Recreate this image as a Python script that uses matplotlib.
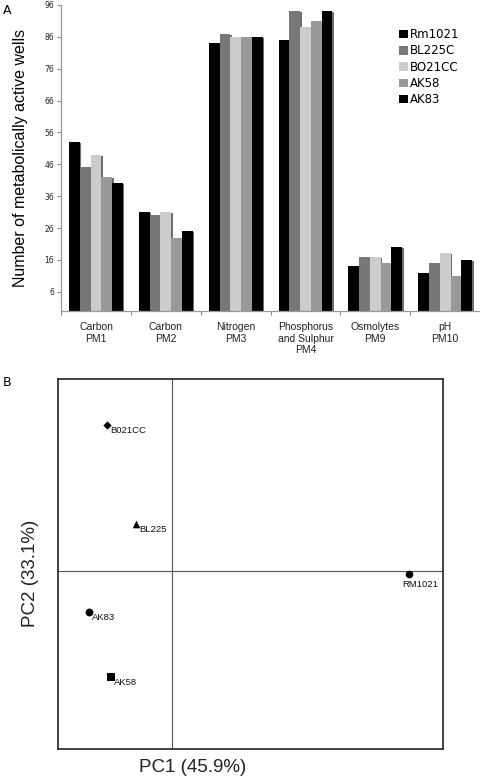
import numpy as np
import matplotlib
matplotlib.use('Agg')
import matplotlib.pyplot as plt

# panel A data
categories = ['Carbon\nPM1', 'Carbon\nPM2', 'Nitrogen\nPM3',
              'Phosphorus\nand Sulphur\nPM4', 'Osmolytes\nPM9', 'pH\nPM10']
strains = ['Rm1021', 'BL225C', 'BO21CC', 'AK58', 'AK83']
rm1021 = [53, 31, 84, 85, 14, 12]
bl225c = [45, 30, 87, 94, 17, 15]
bo21cc = [49, 31, 86, 89, 17, 18]
ak58 = [42, 23, 86, 91, 15, 11]
ak83 = [40, 25, 86, 94, 20, 16]
bar_colors = ['#000000', '#777777', '#cccccc', '#999999', '#000000']
yticks = [6, 16, 26, 36, 46, 56, 66, 76, 86, 96]

# panel B data (PCA scores)
pca_names = ['B021CC', 'BL225', 'RM1021', 'AK83', 'AK58']
pc1 = [-0.65, -0.36, 2.37, -0.83, -0.61]
pc2 = [1.46, 0.47, -0.03, -0.41, -1.06]
pca_markers = ['D', '^', 'o', 'o', 's']
pca_sizes = [18, 30, 30, 32, 28]

fig = plt.figure(figsize=(4.81, 7.81), dpi=100)

# ---- panel A
ax = fig.add_axes([0.127, 0.602, 0.871, 0.3916])
series = [rm1021, bl225c, bo21cc, ak58, ak83]
x = np.arange(len(categories))
w = 0.154
for i, vals in enumerate(series):
    pos = x + (i - 2) * w
    # drop shadow
    ax.bar(pos + 0.022, np.array(vals) - 0.3, width=w, color='#6e6e6e',
           linewidth=0, zorder=1)
for i, vals in enumerate(series):
    pos = x + (i - 2) * w
    ax.bar(pos, vals, width=w, color=bar_colors[i], linewidth=0,
           zorder=2, label=strains[i])

ax.set_xlim(-0.5, len(categories) - 0.5)
ax.set_ylim(0, 96)
ax.set_yticks(yticks)
ax.set_yticklabels([str(t) for t in yticks], fontsize=5.5,
                   family='DejaVu Sans', color='#222222')
ax.set_xticks(np.arange(len(categories) + 1) - 0.5)
ax.set_xticklabels([])
ax.set_xticks(x, minor=True)
ax.set_xticklabels(categories, minor=True, fontsize=7.5,
                   family='Liberation Sans', color='#222222', linespacing=1.2)
ax.tick_params(axis='x', which='minor', length=0, pad=8)
ax.tick_params(axis='x', which='major', length=3, color='#888888',
               direction='out')
ax.tick_params(axis='y', length=3, color='#888888', pad=2)
for s in ['top', 'right']:
    ax.spines[s].set_visible(False)
for s in ['left', 'bottom']:
    ax.spines[s].set_color('#999999')
    ax.spines[s].set_linewidth(0.9)
ax.set_ylabel('Number of metabolically active wells', fontsize=11.5,
              family='Liberation Sans', labelpad=12)
ax.legend(loc='upper left', bbox_to_anchor=(0.795, 0.94), frameon=False,
          prop={'family': 'DejaVu Sans', 'size': 8.5}, handlelength=0.75,
          handleheight=0.75, handletextpad=0.15, labelspacing=0.28,
          borderaxespad=0)

fig.text(0.006, 0.995, 'A', fontsize=9, family='DejaVu Sans', va='top')
fig.text(0.006, 0.518, 'B', fontsize=9, family='DejaVu Sans', va='top')

# ---- panel B
bx = fig.add_axes([0.1206, 0.041, 0.8004, 0.4737])
bx.axvline(0, color='#555555', lw=0.8, zorder=1)
bx.axhline(0, color='#555555', lw=0.8, zorder=1)
for name, px, py, m, sz in zip(pca_names, pc1, pc2, pca_markers, pca_sizes):
    bx.scatter(px, py, marker=m, s=sz, color='black', zorder=3, linewidths=0)
    if name == 'RM1021':
        off = (-5, -4)
    else:
        off = (2, -1)
    bx.annotate(name, (px, py), xytext=off, textcoords='offset points',
                ha='left', va='top', fontsize=6.8, family='Liberation Sans',
                color='#111111')
bx.set_xlim(-1.14, 2.71)
bx.set_ylim(-1.78, 1.92)
bx.set_xticks([])
bx.set_yticks([])
for s in bx.spines.values():
    s.set_linewidth(1.2)
    s.set_color('#222222')
fig.text(0.401, 0.017, 'PC1 (45.9%)', fontsize=13.5, family='Liberation Sans',
         ha='center', va='center', color='#222222')
fig.text(0.064, 0.266, 'PC2 (33.1%)', fontsize=13.5, family='Liberation Sans',
         ha='center', va='center', rotation=90, color='#222222')

fig.savefig('out.png', dpi=100)
